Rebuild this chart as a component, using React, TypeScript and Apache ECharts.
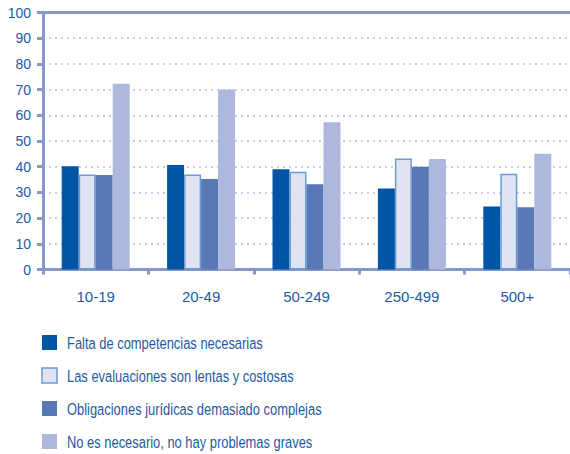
import React, { useEffect, useRef } from "react";
import * as echarts from "echarts";

const categories = ["10-19", "20-49", "50-249", "250-499", "500+"];
const seriesNames = [
  "Falta de competencias necesarias",
  "Las evaluaciones son lentas y costosas",
  "Obligaciones jurídicas demasiado complejas",
  "No es necesario, no hay problemas graves",
];
const falta = [40.2, 40.7, 39.0, 31.5, 24.5];
const evaluaciones = [37.0, 37.0, 38.0, 43.2, 37.3];
const obligaciones = [36.8, 35.2, 33.2, 40.0, 24.2];
const noNecesario = [72.3, 70.0, 57.3, 43.0, 45.0];
const yTicks = { min: 0, max: 100, interval: 10 };

const FONT = "'Liberation Sans', Arial, sans-serif";
const TEXT = "#1e5aa3";
const AXIS = "#8797c8";
const COLORS = ["#0055a5", "#e0e4f2", "#5878b8", "#adb8dc"];
const BORDER2 = "#6b9bd0";

export default function App() {
  const ref = useRef<HTMLDivElement>(null);
  useEffect(() => {
    if (!ref.current) return;
    const chart = echarts.init(ref.current, null, { renderer: "svg" });
    const mk = (name: string, data: number[], color: string, extra: any = {}) => ({
      name,
      type: "bar",
      data,
      barWidth: 17,
      barGap: "0%",
      itemStyle: { color, ...extra },
    });
    const legendItems: any[] = [];
    seriesNames.forEach((name, i) => {
      const top = 335 + i * 33;
      legendItems.push({
        type: "rect",
        shape: { x: 42, y: top, width: 15, height: 15 },
        style: i === 1
          ? { fill: COLORS[i], stroke: BORDER2, lineWidth: 1.5 }
          : { fill: COLORS[i] },
      });
      legendItems.push({
        type: "text",
        x: 67,
        y: top + 8,
        scaleX: 0.76,
        style: {
          text: name,
          fill: TEXT,
          font: `17px ${FONT}`,
          verticalAlign: "middle",
          align: "left",
        },
      });
    });
    chart.setOption({
      animation: false,
      textStyle: { fontFamily: FONT },
      grid: { left: 43, right: 0, top: 12.5, bottom: 184.5 },
      graphic: legendItems,
      xAxis: [
        {
          type: "category",
          data: categories,
          axisLine: { lineStyle: { color: AXIS, width: 3 } },
          axisTick: { show: true, length: 5, lineStyle: { color: AXIS, width: 3 } },
          axisLabel: { color: TEXT, fontSize: 15, fontFamily: FONT, margin: 19 },
        },
        {
          type: "category",
          position: "top",
          data: categories,
          axisLine: { lineStyle: { color: AXIS, width: 3 } },
          axisTick: { show: false },
          axisLabel: { show: false },
        },
      ],
      yAxis: {
        type: "value",
        min: yTicks.min,
        max: yTicks.max,
        interval: yTicks.interval,
        axisLine: { show: true, lineStyle: { color: AXIS, width: 3 } },
        axisTick: { show: true, length: 6, lineStyle: { color: AXIS, width: 3 } },
        axisLabel: { color: TEXT, fontSize: 14, fontFamily: FONT, margin: 12 },
        splitLine: { show: true, lineStyle: { color: "#b4bde3", type: [2, 4], width: 1.5 } },
      },
      series: [
        mk(seriesNames[0], falta, COLORS[0]),
        mk(seriesNames[1], evaluaciones, COLORS[1], { borderColor: BORDER2, borderWidth: 1.5 }),
        mk(seriesNames[2], obligaciones, COLORS[2]),
        mk(seriesNames[3], noNecesario, COLORS[3]),
      ],
    });
    return () => chart.dispose();
  }, []);
  return <div ref={ref} style={{ width: 570, height: 454, position: "absolute", left: 0, top: 0 }} />;
}
